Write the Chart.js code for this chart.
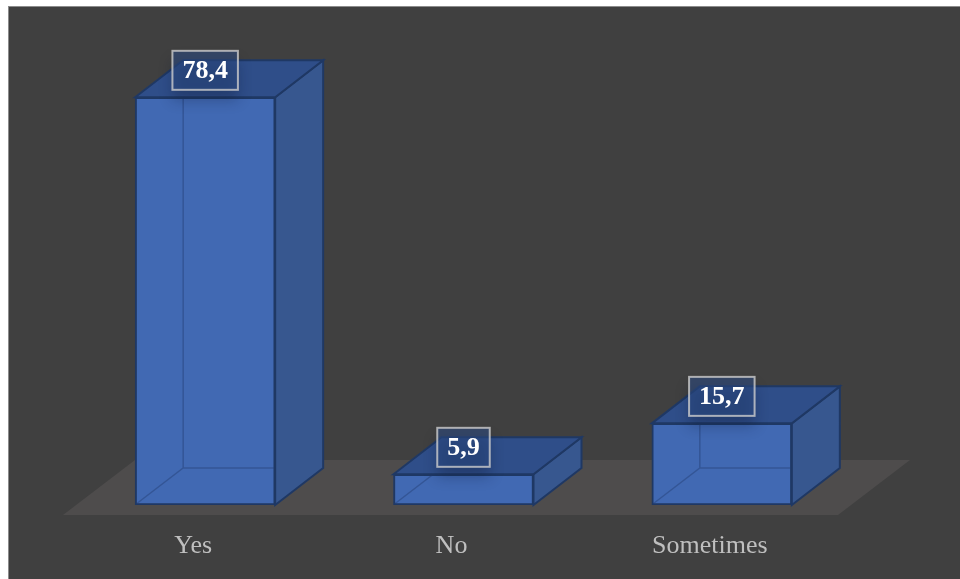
<!DOCTYPE html>
<html>
<head>
<meta charset="utf-8">
<script src="https://cdn.jsdelivr.net/npm/chart.js@4"></script>
<style>
  html, body { margin: 0; padding: 0; background: #ffffff; }
  #wrap { width: 960px; height: 579px; }
</style>
</head>
<body>
<div id="wrap"><canvas id="c" width="960" height="579"></canvas></div>
<script>
// Survey answers (percent)
const categories = ['Yes', 'No', 'Sometimes'];
const percentages = [78.4, 5.9, 15.7];
const valueLabels = percentages.map(v => v.toFixed(1).replace('.', ','));

// Depth of the extruded boxes and of the floor slab
const BAR_DEPTH = { dx: 48, dy: -37 };
const FLOOR_DEPTH = { dx: 72, dy: -55 };
const FLOOR_FRONT = { dx: -13, dy: 10 };

const COLORS = {
  page: '#ffffff',
  frame: '#8c8c8c',
  background: '#404040',
  floor: '#4e4c4c',
  front: '#4169b3',
  side: '#37578f',
  top: '#2f4e89',
  edge: '#1f3864',
  hidden: 'rgba(35, 62, 115, 0.45)',
  tick: '#bfbfbf'
};

function poly(ctx, pts) {
  ctx.beginPath();
  ctx.moveTo(pts[0][0], pts[0][1]);
  for (let i = 1; i < pts.length; i++) ctx.lineTo(pts[i][0], pts[i][1]);
  ctx.closePath();
}

const box3d = {
  id: 'box3d',
  beforeDraw(chart) {
    const ctx = chart.ctx;
    ctx.save();
    ctx.fillStyle = COLORS.page;
    ctx.fillRect(0, 0, chart.width, chart.height);
    ctx.fillStyle = COLORS.frame;
    ctx.fillRect(8, 6, chart.width - 8, chart.height - 6);
    ctx.fillStyle = COLORS.background;
    ctx.fillRect(9, 7, chart.width - 9, chart.height - 7);
    ctx.restore();
  },
  beforeDatasetsDraw(chart) {
    // floor slab under the bars, following the category axis extent
    const ctx = chart.ctx;
    const area = chart.chartArea;
    const y0 = chart.scales.y.getPixelForValue(0) + FLOOR_FRONT.dy;
    const x0 = area.left + FLOOR_FRONT.dx;
    const x1 = area.right + FLOOR_FRONT.dx;
    ctx.save();
    ctx.fillStyle = COLORS.floor;
    poly(ctx, [[x0, y0], [x1, y0], [x1 + FLOOR_DEPTH.dx, y0 + FLOOR_DEPTH.dy], [x0 + FLOOR_DEPTH.dx, y0 + FLOOR_DEPTH.dy]]);
    ctx.fill();
    ctx.restore();
  },
  afterDatasetsDraw(chart) {
    const ctx = chart.ctx;
    const meta = chart.getDatasetMeta(0);
    const { dx, dy } = BAR_DEPTH;
    ctx.save();
    meta.data.forEach((bar, i) => {
      const p = bar.getProps(['x', 'y', 'base', 'width'], true);
      const l = p.x - p.width / 2, r = p.x + p.width / 2, t = p.y, b = p.base;

      // hidden back edges seen through the front face
      ctx.strokeStyle = COLORS.hidden;
      ctx.lineWidth = 1.5;
      ctx.beginPath();
      ctx.moveTo(l + 1, b - 1); ctx.lineTo(l + dx, b + dy);
      ctx.lineTo(r, b + dy);
      ctx.moveTo(l + dx, b + dy); ctx.lineTo(l + dx, t + 1);
      ctx.stroke();

      // right side face
      ctx.fillStyle = COLORS.side;
      poly(ctx, [[r, t], [r + dx, t + dy], [r + dx, b + dy], [r, b]]);
      ctx.fill();
      ctx.strokeStyle = COLORS.edge;
      ctx.lineWidth = 2;
      ctx.stroke();

      // top face
      ctx.fillStyle = COLORS.top;
      poly(ctx, [[l, t], [l + dx, t + dy], [r + dx, t + dy], [r, t]]);
      ctx.fill();
      ctx.stroke();
    });

    // value labels in framed boxes
    ctx.font = 'bold 26px "Liberation Serif", "Times New Roman", serif';
    ctx.textAlign = 'center';
    ctx.textBaseline = 'middle';
    meta.data.forEach((bar, i) => {
      const p = bar.getProps(['x', 'y'], true);
      const text = valueLabels[i];
      const w = ctx.measureText(text).width + 20;
      const h = 39;
      const cx = p.x, cy = p.y - 27;
      ctx.save();
      ctx.shadowColor = 'rgba(10, 20, 45, 0.55)';
      ctx.shadowBlur = 14;
      ctx.shadowOffsetY = 10;
      ctx.fillStyle = 'rgba(44, 74, 132, 0.55)';
      ctx.fillRect(cx - w / 2, cy - h / 2, w, h);
      ctx.restore();
      ctx.strokeStyle = 'rgba(205, 205, 205, 0.8)';
      ctx.lineWidth = 2;
      ctx.strokeRect(cx - w / 2, cy - h / 2, w, h);
      ctx.fillStyle = '#ffffff';
      ctx.fillText(text, cx, cy + 1);
    });
    ctx.restore();
  }
};

new Chart(document.getElementById('c'), {
  type: 'bar',
  data: {
    labels: categories,
    datasets: [{
      data: percentages,
      backgroundColor: COLORS.front,
      borderColor: COLORS.edge,
      borderWidth: 2,
      borderSkipped: false,
      barThickness: 140
    }]
  },
  options: {
    responsive: false,
    animation: false,
    layout: { padding: { left: 76, right: 109, top: 89, bottom: 17 } },
    plugins: { legend: { display: false }, tooltip: { enabled: false } },
    scales: {
      x: {
        offset: true,
        grid: { display: false, drawTicks: false },
        border: { display: false },
        ticks: {
          color: COLORS.tick,
          font: { family: '"Liberation Serif", "Times New Roman", serif', size: 26 },
          padding: 26,
          labelOffset: -12
        },
        afterFit(scale) { scale.height = 57; }
      },
      y: {
        display: false,
        min: 0,
        max: 80
      }
    }
  },
  plugins: [box3d]
});
</script>
</body>
</html>
